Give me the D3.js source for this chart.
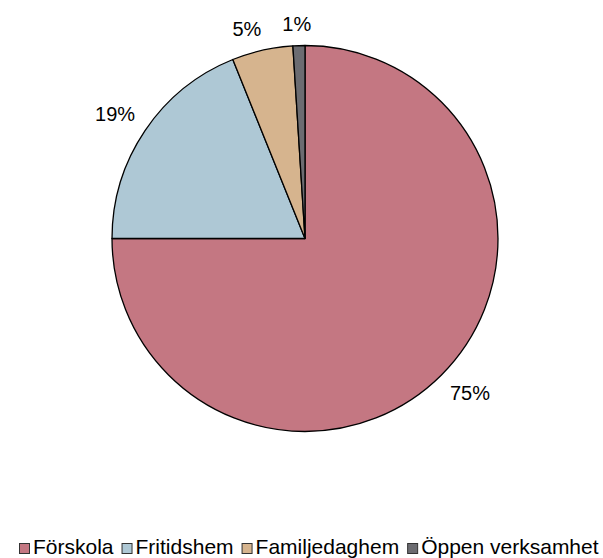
<!DOCTYPE html>
<html>
<head>
<meta charset="utf-8">
<script src="https://cdn.jsdelivr.net/npm/d3@7"></script>
<style>
  body { margin: 0; background: #fff; }
  text { font-family: "Liberation Sans", Arial, sans-serif; fill: #000; }
</style>
</head>
<body>
<div id="chart"></div>
<script>
// Data
const categories = ["Förskola", "Fritidshem", "Familjedaghem", "Öppen verksamhet"];
const shares = [75, 18.9, 5.1, 1.0];
const labels = ["75%", "19%", "5%", "1%"];
const colors = ["#C47782", "#AEC8D5", "#D6B48E", "#6C6C71"];

const width = 603, height = 558;
const cx = 305, cy = 238.5, radius = 193;
const fontSize = 20;
const legendFont = 21;

const svg = d3.select("#chart").append("svg")
    .attr("width", width)
    .attr("height", height);

svg.append("rect").attr("width", width).attr("height", height).attr("fill", "#fff");

const data = categories.map((c, i) => ({ name: c, value: shares[i], label: labels[i], color: colors[i] }));

// Pie: first slice starts at 12 o'clock, going clockwise
const pie = d3.pie().sort(null).value(d => d.value);
const arc = d3.arc().innerRadius(0).outerRadius(radius);
const arcs = pie(data);

const g = svg.append("g").attr("transform", `translate(${cx},${cy})`);

g.selectAll("path.slice")
    .data(arcs)
    .enter().append("path")
    .attr("class", "slice")
    .attr("d", arc)
    .attr("fill", d => d.data.color)
    .attr("stroke", "#000")
    .attr("stroke-width", 1.3)
    .attr("stroke-linejoin", "round");

// Data labels outside the pie, pushed out by half their box
const labelR = radius + 12, halfH = 10;
g.selectAll("text.lbl")
    .data(arcs)
    .enter().append("text")
    .attr("class", "lbl")
    .attr("font-size", fontSize)
    .attr("text-anchor", "middle")
    .attr("dominant-baseline", "central")
    .text(d => d.data.label)
    .each(function(d) {
        const a = (d.startAngle + d.endAngle) / 2;
        const halfW = this.getComputedTextLength() / 2;
        const s = Math.sin(a), c = Math.cos(a);
        const x = s * labelR + Math.sign(s) * halfW * Math.min(1, 4 * Math.abs(s));
        const y = -c * labelR - Math.sign(c) * halfH * Math.min(1, 4 * Math.abs(c));
        d3.select(this).attr("x", x).attr("y", y);
    });

// Legend
const legendY = 554, box = 11;
const legend = svg.append("g").attr("class", "legend");
let x = 19;
data.forEach(d => {
    const item = legend.append("g");
    item.append("rect")
        .attr("x", x + 0.5)
        .attr("y", legendY - box + 0.5)
        .attr("width", box - 1)
        .attr("height", box - 1)
        .attr("fill", d.color)
        .attr("stroke", "#333")
        .attr("stroke-width", 1);
    const t = item.append("text")
        .attr("x", x + box + 3)
        .attr("y", legendY)
        .attr("font-size", legendFont)
        .text(d.name);
    x += box + 3 + t.node().getComputedTextLength() + 8;
});
</script>
</body>
</html>
